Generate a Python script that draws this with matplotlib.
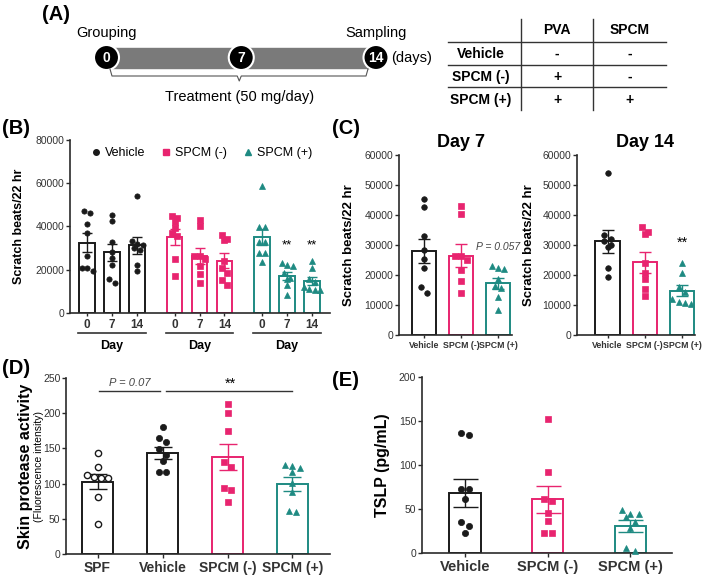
import numpy as np
import matplotlib
matplotlib.use('Agg')
import matplotlib.pyplot as plt
from matplotlib.patches import Rectangle, Circle
from matplotlib.lines import Line2D

plt.rcParams['font.family'] = ['Liberation Sans', 'DejaVu Sans']

## data

groups = ['Vehicle', 'SPCM (-)', 'SPCM (+)']
days = [0, 7, 14]

# scratch beats / 22 hr, one list per group and day
day0_vehicle = [46100, 47300, 41300, 37000, 26500, 21000, 19200, 21000]
day0_neg = [45000, 43800, 42000, 39500, 37000, 35500, 25200, 17300]
day0_pos = [58700, 39600, 39600, 33000, 33000, 27600, 27600, 23700]
day7_vehicle = [45200, 42700, 32900, 28300, 25300, 22400, 15900, 14100]
day7_neg = [42900, 40200, 26400, 26400, 25000, 21700, 18000, 13900]
day7_pos = [22200, 21900, 23100, 18600, 16300, 15600, 12800, 8400]
day14_vehicle = [54100, 33200, 32100, 31300, 30000, 29200, 22200, 19400]
day14_neg = [36100, 34400, 33700, 23900, 20800, 18600, 15200, 13000]
day14_pos = [23900, 20600, 15900, 14500, 12000, 11000, 10600, 10500]

mean_day0 = [32500, 35000, 35300]
sem_day0 = [4300, 3700, 3700]
mean_day7 = [28000, 26500, 17200]
sem_day7 = [4100, 3700, 1800]
mean_day14 = [31300, 24200, 14800]
sem_day14 = [3800, 3400, 1900]

# skin protease activity
d_groups = ['SPF', 'Vehicle', 'SPCM (-)', 'SPCM (+)']
d_spf = [143, 123, 112, 109, 107.5, 107.5, 81.5, 43]
d_vehicle = [179.7, 164, 159.4, 148.6, 140.5, 132.5, 116, 116]
d_neg = [213, 200.5, 174.5, 131, 123, 93.4, 91, 74.5]
d_pos = [125.5, 126.4, 121.7, 116.5, 100.5, 87.8, 59.5, 61.8]
d_mean = [103, 143.8, 137.5, 99.5]
d_sem = [11, 8.2, 18.5, 10.2]

# TSLP
e_vehicle = [135.9, 134.3, 72.8, 72.8, 61, 35.8, 30.9, 22.6]
e_neg = [152, 92, 61.2, 59.2, 45.3, 37, 23.4, 23.4]
e_pos = [48.7, 44.1, 44.1, 41, 35.8, 28.3, 5.6, 3]
e_mean = [68.3, 61.2, 31]
e_sem = [16, 15.5, 6.5]

# table of panel A
table_cols = ['PVA', 'SPCM']
table_rows = ['Vehicle', 'SPCM (-)', 'SPCM (+)']
table_vals = [['-', '-'], ['+', '-'], ['+', '+']]
timeline_days = [0, 7, 14]

## styles
BLK = '#1a1a1a'
PINK = '#e8246f'
TEAL = '#1e8a82'
colors = [BLK, PINK, TEAL]
markers = ['o', 's', '^']
AX = '#2a2a2a'

W, H = 709, 578
fig = plt.figure(figsize=(W / 100, H / 100), dpi=100)


def box(x0, y0, x1, y1):
    return fig.add_axes([x0 / W, 1 - y1 / H, (x1 - x0) / W, (y1 - y0) / H])


def swarm(vals, dx, thr):
    # points closer than thr to the top of their cluster sit side by side
    vals = np.asarray(vals, float)
    order = np.argsort(-vals)
    offs = np.zeros(len(vals))

    def flush(c):
        n = len(c)
        for k, i in enumerate(c):
            offs[i] = (k - (n - 1) / 2) * dx

    cl = [order[0]]
    for i in order[1:]:
        if vals[cl[0]] - vals[i] < thr and len(cl) < 4:
            cl.append(i)
        else:
            flush(cl)
            cl = [i]
    flush(cl)
    return offs


def style(ax, ysize):
    for s in ['top', 'right']:
        ax.spines[s].set_visible(False)
    for s in ['left', 'bottom']:
        ax.spines[s].set_linewidth(1.2)
        ax.spines[s].set_color(AX)
    ax.tick_params(length=3, width=1, color=AX, labelcolor='#333333')
    ax.tick_params(axis='y', labelsize=ysize, pad=1)
    ax.set_facecolor('none')


def bar_dots(ax, x, vals, mean, sem, color, marker, width, cap, ms, dx, thr, face=None):
    ax.bar(x, mean, width, facecolor='white', edgecolor=color, linewidth=1.4, zorder=2)
    ax.errorbar(x, mean, yerr=sem, fmt='none', ecolor=color, elinewidth=1, capsize=cap,
                capthick=1, zorder=3)
    offs = swarm(vals, dx, thr)
    ax.plot(x + offs, vals, ls='none', marker=marker, ms=ms, mfc=face or color, mec=color,
            mew=1 if face else 0.5, zorder=4, clip_on=False)


# overlay for panel A, panel letters and stuff in pixel coordinates
ov = fig.add_axes([0, 0, 1, 1])
ov.set_xlim(0, W)
ov.set_ylim(H, 0)
ov.axis('off')

for lab, x, y in [('(A)', 42, 14), ('(B)', 2, 129), ('(C)', 332, 129), ('(D)', 2, 368), ('(E)', 332, 380)]:
    ov.text(x, y, lab, fontsize=14.5, fontweight='bold', ha='left', va='center')

# timeline
t0, t1 = 106.5, 376
ov.add_patch(Rectangle((t0, 47.5), t1 - t0, 20, color='#7a7a7a', zorder=1))
for d in timeline_days:
    cx = t0 + d / 14 * (t1 - t0)
    ov.add_patch(Circle((cx, 57.5), 12.5, fc='black', ec='white', lw=1.5, zorder=2))
    ov.text(cx, 58, str(d), color='white', fontsize=10, fontweight='bold', ha='center',
            va='center', zorder=3)
ov.text(t0, 33, 'Grouping', fontsize=10.5, ha='center', va='center')
ov.text(t1, 33, 'Sampling', fontsize=10.5, ha='center', va='center')
ov.text(391, 58, '(days)', fontsize=10.5, ha='left', va='center')
mid = (t0 + t1) / 2 - 2
ov.plot([110, 112, mid - 2, mid, mid + 2, 366, 368], [69, 76, 76, 81, 76, 76, 69],
        color='#555555', lw=0.8)
ov.text(mid, 97, 'Treatment (50 mg/day)', fontsize=10.5, ha='center', va='center')

# table
for y in [42.3, 65, 87.3]:
    ov.plot([448, 666], [y, y], color='#333333', lw=1)
for x in [521, 593]:
    ov.plot([x, x], [19, 110], color='#333333', lw=1)
col_x = [557, 630]
row_y = [54, 77, 100]
for j, c in enumerate(table_cols):
    ov.text(col_x[j], 30.5, c, fontsize=10, fontweight='bold', ha='center', va='center')
for i, r in enumerate(table_rows):
    ov.text(481, row_y[i], r, fontsize=10, fontweight='bold', ha='center', va='center')
    for j in range(2):
        ov.text(col_x[j], row_y[i], table_vals[i][j], fontsize=10, fontweight='bold',
                ha='center', va='center')

## (B)
axb = box(70, 140, 330, 313)
style(axb, 7.5)
b_vals = [[day0_vehicle, day7_vehicle, day14_vehicle],
          [day0_neg, day7_neg, day14_neg],
          [day0_pos, day7_pos, day14_pos]]
b_mean = [mean_day0, mean_day7, mean_day14]
b_sem = [sem_day0, sem_day7, sem_day14]
xt, xl = [], []
for g in range(3):
    for k, d in enumerate(days):
        x = g * 3.5 + k
        bar_dots(axb, x, b_vals[g][k], b_mean[k][g], b_sem[k][g], colors[g], markers[g],
                 0.62, 3.5, 3.8, 0.22, 2400)
        xt.append(x)
        xl.append(str(d))
    axb.plot([g * 3.5 - 0.35, g * 3.5 + 2.35], [-0.116, -0.116], color='#333333', lw=1.2,
             transform=axb.get_xaxis_transform(), clip_on=False)
    axb.text(g * 3.5 + 1, -0.19, 'Day', fontsize=9, fontweight='bold', ha='center',
             va='center', transform=axb.get_xaxis_transform())
axb.set_xticks(xt, xl)
axb.tick_params(axis='x', labelsize=8.5, length=2, pad=2)
for lbl in axb.get_xticklabels():
    lbl.set_fontweight('bold')
axb.set_xlim(-0.68, 9.72)
axb.set_ylim(0, 80000)
axb.set_yticks(range(0, 80001, 20000))
axb.set_ylabel('Scratch beats/22 hr', fontsize=9, fontweight='bold')
axb.yaxis.set_label_coords(-0.173, 0.5)
for x in [8, 9]:
    axb.text(x, 31400, '**', fontsize=9.5, ha='center', va='center')
handles = [Line2D([], [], ls='none', marker=markers[i], color=colors[i], ms=4) for i in range(3)]
axb.legend(handles, groups, ncol=3, loc='center', bbox_to_anchor=(0.504, 0.925), frameon=False,
           fontsize=9, handletextpad=0.2, columnspacing=1.2, handlelength=1)

## (C)
c_panels = [(box(399, 155, 512, 335), (-0.68, 2.38), 'Day 7',
             [day7_vehicle, day7_neg, day7_pos], mean_day7, sem_day7, -0.39),
            (box(577, 155, 695, 335), (-0.82, 2.35), 'Day 14',
             [day14_vehicle, day14_neg, day14_pos], mean_day14, sem_day14, -0.36)]
for ax, lim, title, vals, means, sems, lx in c_panels:
    style(ax, 7.5)
    for g in range(3):
        bar_dots(ax, g, vals[g], means[g], sems[g], colors[g], markers[g],
                 0.65, 4.5, 4, 0.17, 1900)
    ax.set_xlim(*lim)
    ax.set_ylim(0, 60000)
    ax.set_yticks(range(0, 60001, 10000))
    ax.set_xticks(range(3), groups)
    ax.tick_params(axis='x', labelsize=6.3, length=2, pad=2)
    for lbl in ax.get_xticklabels():
        lbl.set_fontweight('bold')
    ax.set_ylabel('Scratch beats/22 hr', fontsize=9.5, fontweight='bold')
    ax.yaxis.set_label_coords(lx, 0.5)
    ax.text(1, 1.067, title, fontsize=13, fontweight='bold', ha='center', va='center',
            transform=ax.get_xaxis_transform())
c_panels[0][0].text(2, 29300, 'P = 0.057', fontsize=7.5, style='italic', color='#444444',
                    ha='center', va='center')
c_panels[1][0].text(2, 30700, '**', fontsize=10.5, ha='center', va='center')

## (D)
axd = box(66, 377.7, 330, 554.3)
style(axd, 7.5)
d_vals = [d_spf, d_vehicle, d_neg, d_pos]
d_cols = [BLK, BLK, PINK, TEAL]
d_mk = ['o', 'o', 's', '^']
for i in range(4):
    bar_dots(axd, i, d_vals[i], d_mean[i], d_sem[i], d_cols[i], d_mk[i],
             0.48, 6.5, 4.5, 0.11, 8.5, face='white' if i == 0 else None)
axd.set_xlim(-0.485, 3.577)
axd.set_ylim(0, 250)
axd.set_yticks(range(0, 251, 50))
axd.set_xticks(range(4), d_groups)
axd.tick_params(axis='x', labelsize=10, length=3, pad=2)
for lbl in axd.get_xticklabels():
    lbl.set_fontweight('bold')
axd.text(-0.155, 0.5, 'Skin protease activity', fontsize=11.5, fontweight='bold', rotation=90,
         ha='center', va='center', transform=axd.transAxes)
axd.text(-0.103, 0.5, '(Fluorescence intensity)', fontsize=7.5, rotation=90,
         ha='center', va='center', transform=axd.transAxes)
axd.plot([0.02, 0.96], [231, 231], color='#333333', lw=1)
axd.plot([1.05, 3.0], [231, 231], color='#333333', lw=1)
axd.text(0.5, 243, 'P = 0.07', fontsize=8, style='italic', color='#444444', ha='center',
         va='center')
axd.text(2.04, 242, '**', fontsize=10.5, ha='center', va='center')

## (E)
axe = box(421.7, 376.7, 671.7, 553.3)
style(axe, 7.5)
e_vals = [e_vehicle, e_neg, e_pos]
for i in range(3):
    bar_dots(axe, i, e_vals[i], e_mean[i], e_sem[i], colors[i], markers[i],
             0.38, 9, 4.5, 0.1, 6.8)
axe.set_xlim(-0.525, 2.5)
axe.set_ylim(0, 200)
axe.set_yticks(range(0, 201, 50))
axe.set_xticks(range(3), groups)
axe.tick_params(axis='x', labelsize=10.5, length=3, pad=2)
for lbl in axe.get_xticklabels():
    lbl.set_fontweight('bold')
axe.set_ylabel('TSLP (pg/mL)', fontsize=11.5, fontweight='bold')
axe.yaxis.set_label_coords(-0.127, 0.5)

fig.savefig('out.png', dpi=100)
